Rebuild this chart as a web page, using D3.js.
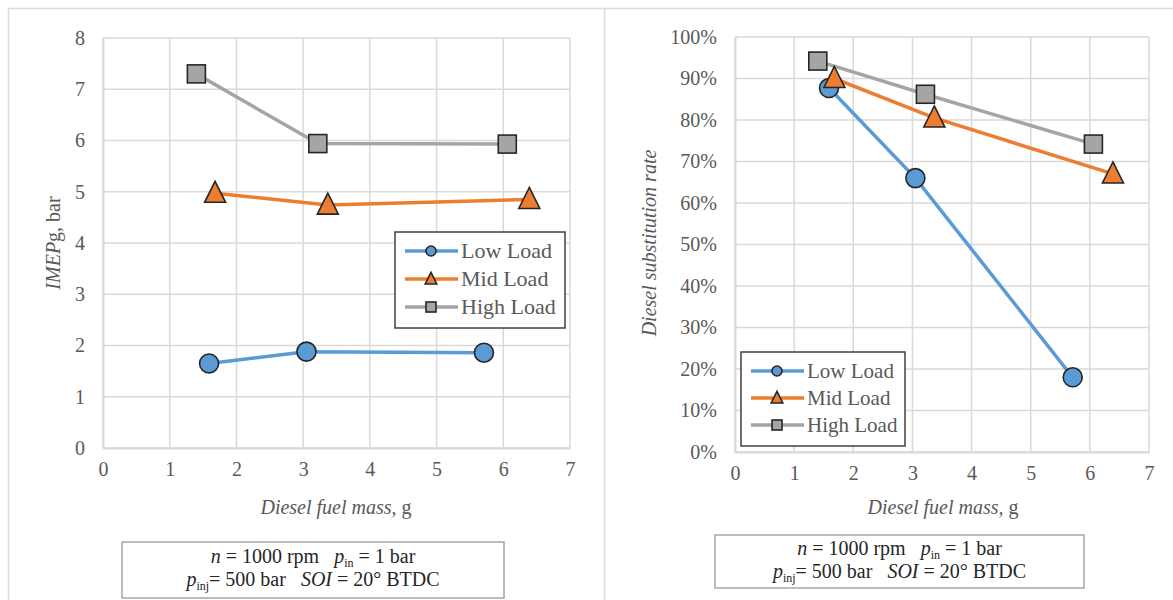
<!DOCTYPE html>
<html lang="en">
<head>
<meta charset="utf-8">
<script src="https://cdn.jsdelivr.net/npm/d3@7"></script>
</head>
<body style="margin:0">
<script>
// series names
var seriesNames = ["Low Load", "Mid Load", "High Load"];

// diesel fuel mass (g) per series
var fuelLow  = [1.59, 3.05, 5.71];
var fuelMid  = [1.68, 3.37, 6.39];
var fuelHigh = [1.40, 3.22, 6.06];

// IMEPg (bar)
var imepLow  = [1.65, 1.88, 1.86];
var imepMid  = [4.97, 4.74, 4.85];
var imepHigh = [7.30, 5.94, 5.93];

// diesel substitution rate
var dsrLow  = [0.877, 0.660, 0.180];
var dsrMid  = [0.900, 0.805, 0.670];
var dsrHigh = [0.942, 0.862, 0.742];

// tick values
var xTicks = [0, 1, 2, 3, 4, 5, 6, 7];
var imepTicks = [0, 1, 2, 3, 4, 5, 6, 7, 8];
var dsrTicks = [0, 0.1, 0.2, 0.3, 0.4, 0.5, 0.6, 0.7, 0.8, 0.9, 1.0];

var colors = ["#5B9BD5", "#ED7D31", "#A5A5A5"];
var shapes = ["circle", "triangle", "square"];
var gridColor = "#D9D9D9";
var textColor = "#595959";
var fontName = "Liberation Serif";

var svg = d3.select("body").append("svg")
	.attr("width", 1173)
	.attr("height", 600)
	.attr("font-family", fontName);

// panel frame
svg.append("path")
	.attr("d", "M8.5,600 V8.5 H1173 M604.5,8.5 V600")
	.attr("fill", "none")
	.attr("stroke", "#DCDCDC")
	.attr("stroke-width", 1.5);

// marker (circle / triangle / square)
function drawMarker(g, shape, x, y, size, fill){
	var m;
	if(shape === "circle"){
		m = g.append("circle").attr("cx", x).attr("cy", y).attr("r", size / 2);
	}else if(shape === "square"){
		m = g.append("rect").attr("x", x - size / 2).attr("y", y - size / 2)
			.attr("width", size).attr("height", size);
	}else{
		var h = size, w = size * 1.05;
		m = g.append("path").attr("d",
			"M" + x + "," + (y - h * 0.6) +
			"L" + (x + w / 2) + "," + (y + h * 0.45) +
			"L" + (x - w / 2) + "," + (y + h * 0.45) + "Z");
	}
	m.attr("fill", fill)
		.attr("stroke", "#262626")
		.attr("stroke-width", 1.6);
}

function addText(size){
	return svg.append("text").attr("font-family", fontName).attr("font-size", size);
}

function drawPanel(p){
	var x = d3.scaleLinear().domain([0, 7]).range([p.left, p.right]);
	var y = d3.scaleLinear().domain(p.yDomain).range([p.bottom, p.top]);

	// grid
	svg.append("g").selectAll("line").data(xTicks).enter().append("line")
		.attr("x1", function(d){ return x(d); }).attr("x2", function(d){ return x(d); })
		.attr("y1", p.top).attr("y2", p.bottom)
		.attr("stroke", gridColor).attr("stroke-width", 1.5);
	svg.append("g").selectAll("line").data(p.yTicks).enter().append("line")
		.attr("x1", p.left).attr("x2", p.right)
		.attr("y1", function(d){ return y(d); }).attr("y2", function(d){ return y(d); })
		.attr("stroke", gridColor).attr("stroke-width", 1.5);

	// axes
	var xAxis = svg.append("g").attr("transform", "translate(0," + p.bottom + ")")
		.call(d3.axisBottom(x).tickValues(xTicks).tickSize(0).tickPadding(14).tickFormat(d3.format("d")));
	var yAxis = svg.append("g").attr("transform", "translate(" + p.left + ",0)")
		.call(d3.axisLeft(y).tickValues(p.yTicks).tickSize(0).tickPadding(p.yPad).tickFormat(p.yFormat));
	[xAxis, yAxis].forEach(function(a){
		a.attr("font-family", fontName).attr("font-size", 20);
		a.select(".domain").attr("stroke", gridColor).attr("stroke-width", 2);
		a.selectAll("text").attr("fill", textColor).attr("font-family", fontName).attr("font-size", 20);
	});

	// series lines
	var line = d3.line().x(function(d){ return x(d[0]); }).y(function(d){ return y(d[1]); });
	p.series.forEach(function(s, i){
		var pts = s.xs.map(function(v, k){ return [v, s.ys[k]]; });
		svg.append("path").datum(pts).attr("d", line)
			.attr("fill", "none").attr("stroke", colors[i]).attr("stroke-width", 3.5);
	});
	// markers
	p.series.forEach(function(s, i){
		var mg = svg.append("g");
		s.xs.forEach(function(v, k){
			var sz = shapes[i] === "circle" ? 19 : shapes[i] === "square" ? 18 : 20;
			drawMarker(mg, shapes[i], x(v), y(s.ys[k]), sz, colors[i]);
		});
	});

	// axis titles
	var xt = addText(20)
		.attr("x", p.xTitleX).attr("y", p.xTitleY)
		.attr("text-anchor", "middle").attr("fill", textColor);
	xt.append("tspan").attr("font-style", "italic").text("Diesel fuel mass");
	xt.append("tspan").text(", g");

	var yt = addText(20)
		.attr("transform", "translate(" + p.yTitleX + "," + p.yTitleY + ") rotate(-90)")
		.attr("text-anchor", "middle").attr("fill", textColor);
	p.yTitle.forEach(function(t){
		yt.append("tspan").attr("font-style", t[1] ? "italic" : "normal").text(t[0]);
	});

	// legend
	var L = p.legend;
	svg.append("rect").attr("x", L.x).attr("y", L.y).attr("width", L.w).attr("height", L.h)
		.attr("fill", "#fff").attr("stroke", "#404040").attr("stroke-width", 1.5);
	seriesNames.forEach(function(name, i){
		var ry = L.y + L.first + i * L.step;
		svg.append("line").attr("x1", L.x + 10).attr("x2", L.x + 63)
			.attr("y1", ry).attr("y2", ry)
			.attr("stroke", colors[i]).attr("stroke-width", 3.5);
		var mg = svg.append("g");
		drawMarker(mg, shapes[i], L.x + 36, ry, shapes[i] === "triangle" ? 11 : 10, colors[i]);
		addText(L.font).attr("x", L.x + 66).attr("y", ry + 7)
			.attr("fill", textColor).text(name);
	});

	// condition box
	var B = p.box;
	svg.append("rect").attr("x", B.x).attr("y", B.y).attr("width", B.w).attr("height", B.h)
		.attr("fill", "#fff").attr("stroke", "#A6A6A6").attr("stroke-width", 1.5);
	var cx = B.x + B.w / 2;
	var t1 = addText(20).attr("x", cx).attr("y", B.y + B.l1)
		.attr("text-anchor", "middle").attr("fill", "#262626");
	t1.append("tspan").attr("font-style", "italic").text("n");
	t1.append("tspan").text(" = 1000 rpm\u00A0\u00A0 ");
	t1.append("tspan").attr("font-style", "italic").text("p");
	t1.append("tspan").attr("font-size", 12).attr("dy", 4).text("in");
	t1.append("tspan").attr("dy", -4).text(" = 1 bar");
	var t2 = addText(20).attr("x", cx).attr("y", B.y + B.l2)
		.attr("text-anchor", "middle").attr("fill", "#262626");
	t2.append("tspan").attr("font-style", "italic").text("p");
	t2.append("tspan").attr("font-size", 12).attr("dy", 4).text("inj");
	t2.append("tspan").attr("dy", -4).text("= 500 bar\u00A0\u00A0 ");
	t2.append("tspan").attr("font-style", "italic").text("SOI");
	t2.append("tspan").text(" = 20\u00B0 BTDC");
}

drawPanel({
	left: 103, right: 570, top: 38, bottom: 448,
	yDomain: [0, 8], yTicks: imepTicks, yFormat: d3.format("d"), yPad: 18,
	series: [
		{ xs: fuelLow, ys: imepLow },
		{ xs: fuelMid, ys: imepMid },
		{ xs: fuelHigh, ys: imepHigh }
	],
	xTitleX: 336, xTitleY: 514,
	yTitleX: 60, yTitleY: 243,
	yTitle: [["IMEP", true], ["g, bar", false]],
	legend: { x: 395, y: 232, w: 170, h: 96, first: 19, step: 28, font: 22 },
	box: { x: 122, y: 542, w: 382, h: 56, l1: 21, l2: 44 }
});

drawPanel({
	left: 735, right: 1149, top: 37, bottom: 452,
	yDomain: [0, 1], yTicks: dsrTicks, yFormat: d3.format(".0%"), yPad: 18,
	series: [
		{ xs: fuelLow, ys: dsrLow },
		{ xs: fuelMid, ys: dsrMid },
		{ xs: fuelHigh, ys: dsrHigh }
	],
	xTitleX: 943, xTitleY: 514,
	yTitleX: 656, yTitleY: 243,
	yTitle: [["Diesel substitution rate", true]],
	legend: { x: 741, y: 352, w: 164, h: 94, first: 19, step: 27, font: 21 },
	box: { x: 715, y: 535, w: 369, h: 53, l1: 20, l2: 43 }
});
</script>
</body>
</html>
